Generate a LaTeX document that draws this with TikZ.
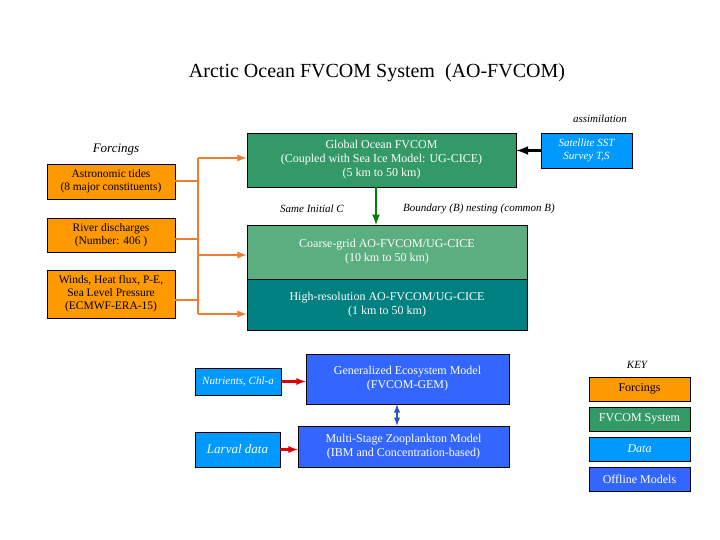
\documentclass[tikz,border=0pt]{standalone}
\usepackage{fontspec}
\setmainfont{Liberation Serif}
\begin{document}
\begin{tikzpicture}[x=1pt,y=-1pt,
 bx/.style={draw=black,line width=0.6pt,align=center,font=\fontsize{12}{14}\selectfont,inner sep=1pt},
 og/.style={bx,fill=cOr,text=black},
 gr/.style={bx,fill=cGr,text=white},
 lb/.style={bx,fill=cLb,text=white,font=\fontsize{12}{14}\selectfont\itshape},
 db/.style={bx,fill=cDb,text=white},
 oa/.style={draw=cOl,line width=2.2pt},
 it/.style={font=\fontsize{11}{13}\selectfont\itshape}]
\definecolor{cOr}{HTML}{FF9900}\definecolor{cGr}{HTML}{339966}
\definecolor{cCg}{HTML}{5BAE80}\definecolor{cTe}{HTML}{008080}
\definecolor{cLb}{HTML}{0099FF}\definecolor{cDb}{HTML}{3366FF}
\definecolor{cOl}{HTML}{ED7D31}\definecolor{cRd}{HTML}{DD0000}
\useasboundingbox (0,0) rectangle (720,540);
\node (title) at (377,73) {\fontsize{20}{24}\selectfont Arctic Ocean FVCOM System\ \ (AO-FVCOM)};
\node[it] (assim) at (600,119) {assimilation};
\node[it,font=\fontsize{13}{15}\selectfont\itshape] (forc) at (116,150) {Forcings};
\node[og,minimum width=128,minimum height=35,font=\fontsize{11.5}{13}\selectfont] (tides) at (111,181.5) {Astronomic tides\\(8 major constituents)};
\node[og,minimum width=128,minimum height=34,font=\fontsize{11.5}{13}\selectfont] (river) at (111,235) {River discharges\\(Number: 406 )};
\node[og,minimum width=128,minimum height=48,font=\fontsize{11.5}{13}\selectfont] (winds) at (111,294) {Winds, Heat flux, P-E,\\Sea Level Pressure\\(ECMWF-ERA-15)};
\node[gr,minimum width=269,minimum height=54] (glob) at (381.5,160) {Global Ocean FVCOM\\(Coupled with Sea Ice Model: UG-CICE)\\(5 km to 50 km)};
\node[lb,minimum width=91,minimum height=35,font=\fontsize{11}{13}\selectfont\itshape] (sat) at (586.5,150.5) {Satellite SST\\Survey T,S};
\node[bx,fill=cCg,text=white,minimum width=280,minimum height=54] (coarse) at (387,252) {Coarse-grid AO-FVCOM/UG-CICE\\(10 km to 50 km)};
\node[bx,fill=cTe,text=white,minimum width=280,minimum height=51] (high) at (387,304.5) {High-resolution AO-FVCOM/UG-CICE\\(1 km to 50 km)};
\node[it] (same) at (312,209) {Same Initial C};
\node[it] (bnd) at (479,209) {Boundary (B) nesting (common B)};
\coordinate (ta) at (198,181);\coordinate (ra) at (198,239);\coordinate (wa) at (198,300);
\coordinate (v1) at (198,158);\coordinate (v2) at (198,255);\coordinate (v3) at (198,314);
\draw[oa] (tides.east|-ta) -- (ta);
\draw[oa] (river.east|-ra) -- (ra);
\draw[oa] (winds.east|-wa) -- (wa);
\draw[oa] (v1) -- (v3);
\draw[oa,-latex] (v1) -- (glob.west|-v1);
\draw[oa,-latex] (v2) -- (coarse.west|-v2);
\draw[oa,-latex] (v3) -- (high.west|-v3);
\draw[line width=3pt,-latex] (sat.west) -- (glob.east|-sat.west);
\draw[draw=green!50!black,line width=2.5pt,-latex] (376,187) -- (376,225);
\node[db,minimum width=203,minimum height=50] (gem) at (407.5,379) {Generalized Ecosystem Model\\(FVCOM-GEM)};
\node[lb,minimum width=86,minimum height=27,font=\fontsize{11}{13}\selectfont\itshape] (nut) at (238,381.5) {Nutrients, Chl-a};
\node[db,minimum width=211,minimum height=41] (zoo) at (403.5,446.5) {Multi-Stage Zooplankton Model\\(IBM and Concentration-based)};
\node[lb,minimum width=85,minimum height=35,font=\fontsize{13}{15}\selectfont\itshape] (larv) at (237.5,449.5) {Larval data};
\draw[cRd,line width=2.2pt,-latex] (nut.east) -- (gem.west|-nut.east);
\draw[cRd,line width=2.2pt,-latex] (larv.east) -- (zoo.west|-larv.east);
\draw[draw=cDb!80!black,line width=1.8pt,latex-latex] (gem.south-|397,0) -- (zoo.north-|397,0);
\node[it] (key) at (637,365) {KEY};
\node[og,minimum width=101,minimum height=24] (k1) at (639.5,389) {Forcings};
\node[gr,minimum width=101,minimum height=24] (k2) at (639.5,419) {FVCOM System};
\node[lb,minimum width=101,minimum height=24] (k3) at (639.5,449) {Data};
\node[db,minimum width=101,minimum height=24] (k4) at (639.5,479) {Offline Models};
\end{tikzpicture}
\end{document}
